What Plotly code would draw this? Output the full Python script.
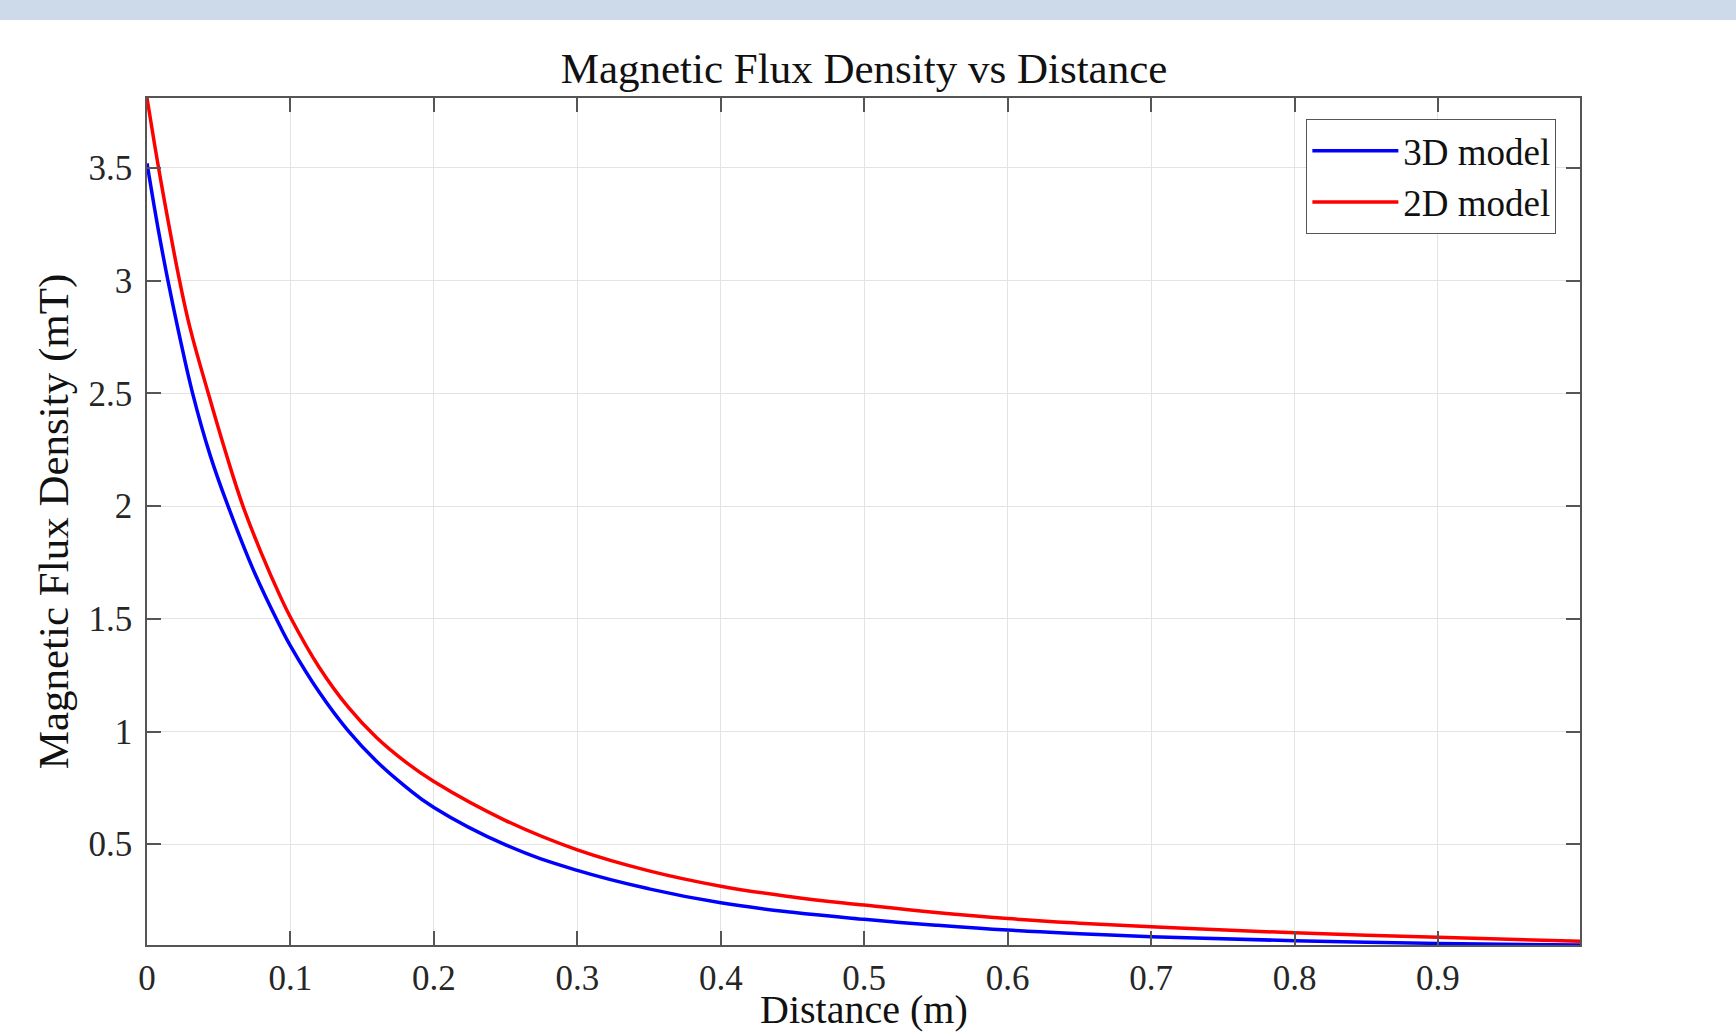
import plotly.graph_objects as go

# distance (m) and flux density (mT)
x_3d = [0, 0.005, 0.01, 0.0146, 0.022, 0.0318, 0.044, 0.0565, 0.075, 0.0925,
        0.1, 0.12, 0.14, 0.16, 0.18, 0.2, 0.25, 0.3, 0.35, 0.4, 0.45, 0.5,
        0.55, 0.6, 0.65, 0.7, 0.8, 0.9, 0.999]
b_3d = [3.52, 3.33, 3.152, 3.0, 2.774, 2.5, 2.226, 2.0, 1.704, 1.47,
        1.38, 1.175, 1.005, 0.868, 0.757, 0.663, 0.497, 0.384, 0.302, 0.240, 0.198, 0.167,
        0.141, 0.119, 0.103, 0.090, 0.072, 0.060, 0.053]

x_2d = [0, 0.005, 0.01, 0.015, 0.0227, 0.03, 0.0425, 0.055, 0.0669, 0.08, 0.0925,
        0.1, 0.12, 0.14, 0.16, 0.18, 0.2, 0.25, 0.3, 0.35, 0.4, 0.45, 0.5,
        0.55, 0.6, 0.65, 0.7, 0.8, 0.9, 0.999]
b_2d = [3.81, 3.615, 3.43, 3.255, 3.0, 2.79, 2.505, 2.235, 2.0, 1.787, 1.605,
        1.507, 1.285, 1.11, 0.973, 0.866, 0.778, 0.605, 0.475, 0.382, 0.314, 0.266, 0.230,
        0.197, 0.170, 0.150, 0.134, 0.107, 0.087, 0.070]

FONT = "Liberation Serif"
AXC = "#555555"
TXT = "#111111"

fig = go.Figure()
fig.add_trace(go.Scatter(x=x_3d, y=b_3d, mode="lines", name="3D model",
                         line=dict(color="#0000ff", width=3.5, shape="spline", smoothing=1.2)))
fig.add_trace(go.Scatter(x=x_2d, y=b_2d, mode="lines", name="2D model",
                         line=dict(color="#ff0000", width=3.5, shape="spline", smoothing=1.2)))

axis_style = dict(
    showline=True, linecolor=AXC, linewidth=1.5, mirror="ticks",
    ticks="inside", ticklen=14, tickwidth=1.5, tickcolor=AXC,
    showgrid=True, gridcolor="#e3e3e3", gridwidth=1, zeroline=False,
    automargin=False,
    tickfont=dict(family=FONT, size=35, color="#262626"),
)

fig.update_layout(
    width=1736, height=1034,
    margin=dict(l=147, r=156, t=98, b=89),
    paper_bgcolor="white", plot_bgcolor="white",
    font=dict(family=FONT, color=TXT),
    title=dict(text="Magnetic Flux Density vs Distance", x=0.4977, xanchor="center",
               y=1 - 68 / 1034, yanchor="middle", yref="container",
               font=dict(family=FONT, size=43, color=TXT)),
    xaxis=dict(range=[min(x_3d + x_2d), max(x_3d + x_2d)], dtick=0.1, tick0=0,
               ticklabelstandoff=1, **axis_style),
    yaxis=dict(range=[min(b_3d + b_2d), max(b_3d + b_2d)], dtick=0.5, tick0=0,
               ticklabelstandoff=6,
               title=dict(text="Magnetic Flux Density (mT)",
                          font=dict(family=FONT, size=43, color=TXT), standoff=6),
               **axis_style),
    legend=dict(x=0.9835, y=0.9749, xanchor="right", yanchor="top",
                bordercolor=AXC, borderwidth=1, bgcolor="white",
                font=dict(family=FONT, size=37, color=TXT),
                itemwidth=86, tracegroupgap=0),
    showlegend=True,
    # x-axis title kept as an annotation so it can sit at the page's bottom edge
    annotations=[dict(text="Distance (m)", xref="paper", yref="paper",
                      x=0.5, y=(945 - 1033) / 847, xanchor="center", yanchor="bottom",
                      showarrow=False, borderpad=0,
                      font=dict(family=FONT, size=40, color=TXT))],
    shapes=[dict(type="rect", xref="paper", yref="paper",
                 x0=-0.11, x1=1.12, y0=(945 - 20) / 847, y1=(945 + 2) / 847,
                 fillcolor="#cddaea", line=dict(width=0), layer="below")],
)

fig.write_html("out.html", config={"displayModeBar": False},
               post_script="document.body.style.margin='0';")
